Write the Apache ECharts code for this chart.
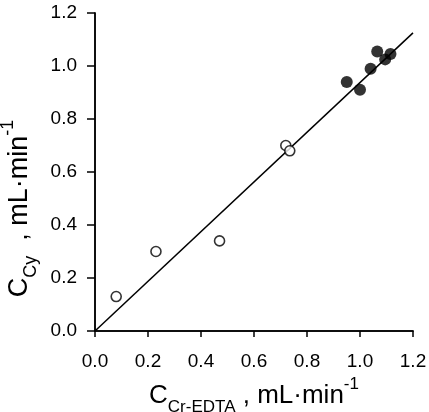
<!DOCTYPE html>
<html>
<head>
<meta charset="utf-8">
<script src="https://cdn.jsdelivr.net/npm/echarts@6/dist/echarts.min.js"></script>
<style>html,body{margin:0;padding:0;background:#fff;}#c{width:429px;height:412px;}</style>
</head>
<body>
<div id="c"></div>
<script>
// Open circles (x, y)
const openX = [0.08, 0.23, 0.47, 0.72, 0.735];
const openY = [0.13, 0.30, 0.34, 0.70, 0.68];
// Filled circles (x, y)
const filledX = [0.95, 1.00, 1.04, 1.065, 1.095, 1.115];
const filledY = [0.94, 0.91, 0.99, 1.055, 1.025, 1.045];
// Regression line end points
const lineX = [0.0, 1.2];
const lineY = [0.0, 1.125];
const tickVals = [0.0, 0.2, 0.4, 0.6, 0.8, 1.0, 1.2];

const zip = (a, b) => a.map((v, i) => [v, b[i]]);
const FONT = 'Liberation Sans';
const chart = echarts.init(document.getElementById('c'));
const richX = {
  m: {fontSize: 26, fontFamily: FONT, color: '#000'},
  sub: {fontSize: 17, fontFamily: FONT, color: '#000', verticalAlign: 'bottom', padding: [0,0,-7,0]},
  sup: {fontSize: 17, fontFamily: FONT, color: '#000', verticalAlign: 'top', padding: [-7,0,0,0]}
};
const richY = {
  m: {fontSize: 27, fontFamily: FONT, color: '#000'},
  sub: {fontSize: 18, fontFamily: FONT, color: '#000', verticalAlign: 'bottom', padding: [0,0,-7,0]},
  sup: {fontSize: 18, fontFamily: FONT, color: '#000', verticalAlign: 'top', padding: [-7,0,0,0]}
};
chart.setOption({
  animation: false,
  backgroundColor: '#fff',
  grid: {left: 95, top: 13, width: 318, height: 318, containLabel: false, outerBoundsMode: 'none'},
  xAxis: [{
    type: 'value', min: 0, max: 1.2, interval: 0.2,
    axisLine: {show: true, lineStyle: {color: '#000', width: 1.5}},
    axisTick: {show: true, inside: false, length: 6, lineStyle: {color: '#000', width: 1.5}},
    splitLine: {show: false},
    axisLabel: {fontSize: 19, fontFamily: FONT, color: '#000', margin: 21, formatter: v => v.toFixed(1)},
    name: '{m|C}{sub|Cr-EDTA}{m| , mL·min}{sup|-1}',
    nameLocation: 'middle', nameGap: 34,
    nameTextStyle: {rich: richX}
  }, {
    type: 'value', position: 'top', min: 0, max: 1.2,
    axisLine: {show: true, lineStyle: {color: '#000', width: 1.5}},
    axisTick: {show: false}, axisLabel: {show: false}, splitLine: {show: false}
  }],
  yAxis: [{
    type: 'value', min: 0, max: 1.2, interval: 0.2,
    axisLine: {show: true, lineStyle: {color: '#000', width: 1.5}},
    axisTick: {show: true, inside: false, length: 8, lineStyle: {color: '#000', width: 1.5}},
    splitLine: {show: false},
    axisLabel: {fontSize: 19, fontFamily: FONT, color: '#000', margin: 18, formatter: v => v.toFixed(1)},
    name: '{m|C}{sub|Cy}{m|  , mL·min}{sup|-1}',
    nameLocation: 'middle', nameGap: 50, nameRotate: 90,
    nameTextStyle: {rich: richY, padding: [0, 73, 0, 0]}
  }, {
    type: 'value', position: 'right', min: 0, max: 1.2,
    axisLine: {show: true, lineStyle: {color: '#000', width: 1.5}},
    axisTick: {show: false}, axisLabel: {show: false}, splitLine: {show: false}
  }],
  series: [{
    type: 'line', data: zip(lineX, lineY), symbol: 'none',
    lineStyle: {color: '#000', width: 1.5}, z: 1
  }, {
    type: 'scatter', data: zip(openX, openY), symbol: 'circle', symbolSize: 10,
    itemStyle: {color: '#fff', borderColor: '#000', borderWidth: 1.6}, z: 3
  }, {
    type: 'scatter', data: zip(filledX, filledY), symbol: 'circle', symbolSize: 12,
    itemStyle: {color: '#000'}, z: 3
  }]
});
</script>
</body>
</html>
